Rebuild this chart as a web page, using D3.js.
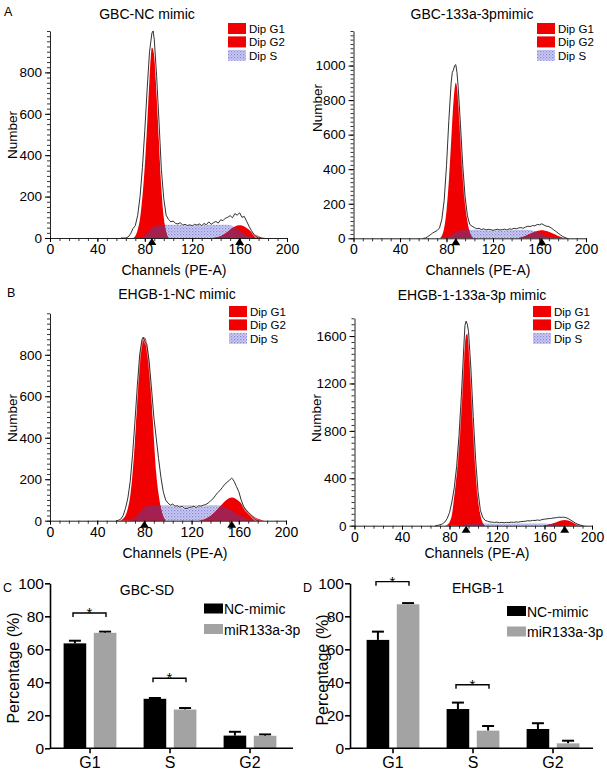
<!DOCTYPE html>
<html><head><meta charset="utf-8">
<script src="https://cdn.jsdelivr.net/npm/d3@7"></script>
<style>body{margin:0;background:#fff}svg{display:block}</style>
</head><body>
<svg id="fig" width="607" height="771"></svg>
<script>
// ---------------- DATA ----------------
const histTitles = ["GBC-NC mimic", "GBC-133a-3pmimic", "EHGB-1-NC mimic", "EHGB-1-133a-3p mimic"];
const phaseLegend = ["Dip G1", "Dip G2", "Dip S"];
const channelTicks = [0, 40, 80, 120, 160, 200];

// Panel A left: GBC-NC mimic  [channel, count]
const a1Total = [[60,0],[64,0],[66,5],[68,20],[70,45],[72,60],[74,110],[76,200],[78,340],[80,520],[82,720],[84,900],[86,990],[87,1000],[88,960],[90,780],[92,560],[94,330],[96,190],[98,110],[100,90],[102,78],[104,82],[106,70],[108,68],[110,74],[112,62],[114,66],[116,60],[118,64],[120,58],[122,66],[124,62],[126,68],[128,60],[130,70],[132,64],[134,78],[136,66],[138,74],[140,80],[142,72],[144,88],[146,84],[148,96],[150,100],[152,108],[154,98],[156,118],[158,110],[160,122],[162,100],[164,104],[166,80],[168,56],[170,36],[172,18],[174,6],[176,0]];
const a1G1 = [[70,0],[72,10],[74,40],[76,95],[78,200],[80,350],[82,550],[84,770],[86,920],[88,880],[90,700],[92,470],[94,240],[96,100],[98,30],[100,0]];
const a1G2 = [[138,0],[142,5],[146,15],[150,30],[154,48],[158,60],[160,62],[162,60],[166,48],[170,30],[174,14],[178,4],[182,0]];
const a1S = [[76,0],[80,10],[84,35],[88,55],[92,62],[96,64],[150,64],[154,58],[158,45],[162,28],[166,12],[170,3],[172,0]];
const a1Means = [86, 160];
const a1YTicks = [0, 200, 400, 600, 800];

// Panel A right: GBC-133a-3pmimic
const a2Total = [[60,0],[62,2],[64,10],[66,20],[68,30],[70,38],[72,45],[74,60],[76,110],[78,220],[80,420],[82,680],[84,900],[85,960],[86,975],[87,1000],[88,1005],[89,960],[90,880],[92,660],[94,420],[96,240],[98,130],[100,80],[102,70],[104,62],[106,55],[108,58],[110,50],[112,55],[114,48],[116,52],[118,50],[120,46],[122,50],[124,52],[126,48],[128,50],[130,53],[132,48],[134,55],[136,52],[138,58],[140,55],[142,60],[144,62],[146,58],[148,65],[150,70],[152,68],[154,74],[156,72],[158,80],[160,78],[162,84],[164,76],[166,70],[168,68],[170,60],[172,50],[174,40],[176,30],[178,20],[180,10],[182,4],[184,0]];
const a2G1 = [[74,0],[76,15],[78,60],[80,160],[82,330],[84,560],[86,790],[88,900],[90,820],[92,620],[94,400],[96,220],[98,100],[100,35],[102,8],[104,0]];
const a2G2 = [[140,0],[144,5],[148,14],[152,26],[156,38],[160,45],[162,46],[164,45],[168,38],[172,26],[176,14],[180,5],[184,0]];
const a2S = [[78,0],[82,10],[86,28],[90,42],[94,48],[98,50],[150,50],[154,45],[158,36],[162,25],[166,14],[170,6],[174,0]];
const a2Means = [88, 162];
const a2YTicks = [0, 200, 400, 600, 800, 1000];

// Panel B left: EHGB-1-NC mimic
const b1Total = [[56,0],[58,2],[60,8],[62,25],[64,60],[66,110],[68,190],[70,320],[72,480],[74,650],[76,800],[78,875],[79,885],[80,870],[81,860],[82,850],[84,770],[86,640],[88,500],[90,400],[92,300],[94,210],[96,140],[98,100],[100,85],[102,75],[104,80],[106,70],[108,72],[110,65],[112,70],[114,60],[116,58],[118,64],[120,66],[122,70],[124,62],[126,72],[128,70],[130,75],[132,78],[134,85],[136,95],[138,105],[140,120],[142,135],[144,145],[146,160],[148,175],[150,185],[152,195],[154,205],[155,200],[156,190],[158,165],[160,140],[162,100],[164,70],[166,50],[168,40],[170,28],[172,15],[174,6],[176,0]];
const b1G1 = [[58,0],[62,10],[66,60],[68,120],[70,230],[72,390],[74,600],[76,790],[78,870],[80,885],[82,860],[84,780],[86,600],[88,400],[90,230],[92,130],[94,60],[96,20],[98,0]];
const b1G2 = [[126,0],[130,5],[134,15],[138,32],[142,55],[146,80],[150,102],[154,112],[158,104],[162,84],[166,58],[170,34],[174,16],[178,6],[182,0]];
const b1S = [[66,0],[70,10],[74,30],[78,55],[82,70],[86,75],[142,75],[146,70],[150,60],[154,48],[158,35],[162,22],[166,12],[170,5],[174,0]];
const b1Means = [80, 154];
const b1YTicks = [0, 200, 400, 600, 800];

// Panel B right: EHGB-1-133a-3p mimic
const b2Total = [[68,0],[70,3],[72,8],[74,15],[76,30],[78,60],[80,110],[82,200],[84,320],[86,500],[88,760],[90,1100],[92,1500],[93,1690],[94,1726],[95,1700],[96,1640],[98,1330],[100,920],[102,560],[104,290],[106,130],[108,70],[110,45],[112,38],[114,32],[116,30],[118,28],[120,30],[122,26],[124,28],[126,25],[128,28],[130,26],[132,30],[134,28],[136,32],[138,30],[140,34],[142,36],[144,38],[146,42],[148,40],[150,45],[152,44],[154,48],[156,45],[158,52],[160,55],[162,58],[164,60],[166,62],[168,66],[170,68],[172,72],[174,70],[176,72],[178,68],[180,60],[182,48],[184,35],[186,22],[188,12],[190,5],[192,0]];
const b2G1 = [[76,0],[78,8],[80,30],[82,90],[84,250],[86,450],[88,720],[90,1050],[92,1420],[94,1610],[95,1620],[96,1560],[98,1250],[100,850],[102,500],[104,240],[106,90],[108,25],[110,0]];
const b2G2 = [[158,0],[162,6],[166,16],[170,30],[174,44],[177,48],[180,44],[184,30],[188,14],[192,4],[196,0]];
const b2S = [[84,0],[90,6],[96,14],[100,18],[160,18],[166,14],[172,8],[178,3],[184,0]];
const b2Means = [94, 177];
const b2YTicks = [0, 400, 800, 1200, 1600];

// Bar charts
const barCategories = ["G1", "S", "G2"];
const barSeries = ["NC-mimic", "miR133a-3p"];
const pctTicks = [0, 20, 40, 60, 80, 100];
const gbcNC = [63.6, 30.0, 7.7];
const gbcNCErr = [1.6, 0.5, 2.3];
const gbcMiR = [70.0, 23.5, 7.6];
const gbcMiRErr = [0.7, 0.9, 0.8];
const ehgbNC = [65.7, 23.8, 11.7];
const ehgbNCErr = [5.0, 3.9, 3.5];
const ehgbMiR = [87.3, 10.7, 3.0];
const ehgbMiRErr = [0.7, 2.8, 1.6];
const gbcSigCats = ["G1", "S"];
const gbcSigLevels = [82, 42.5];
const ehgbSigCats = ["G1", "S"];
const ehgbSigLevels = [101, 38.5];

// ---------------- DRAWING ----------------
const FONT = "'Liberation Sans', Arial, Helvetica, sans-serif";
const RED = "#f00000";
const OVERLAP = "#a3204f";
const svg = d3.select("#fig");
svg.append("rect").attr("width", 607).attr("height", 771).attr("fill", "#fff");

const defs = svg.append("defs");
const pat = defs.append("pattern").attr("id", "sPat").attr("width", 3).attr("height", 3)
  .attr("patternUnits", "userSpaceOnUse");
pat.append("rect").attr("width", 3).attr("height", 3).attr("fill", "#ccccf2");
pat.append("rect").attr("width", 1.3).attr("height", 1.3).attr("fill", "#8686da");
pat.append("rect").attr("x", 1.5).attr("y", 1.5).attr("width", 1.3).attr("height", 1.3).attr("fill", "#a4a4e6");

function txt(g, x, y, s, size, anchor, extra) {
  const t = g.append("text").attr("x", x).attr("y", y).text(s)
    .attr("font-family", FONT).attr("font-size", size).attr("fill", "#000")
    .attr("text-anchor", anchor || "start");
  if (extra) extra(t);
  return t;
}

function drawHist(cfg, d) {
  const g = svg.append("g");
  const x = d3.scaleLinear().domain([0, 200]).range([cfg.x0, cfg.x1]);
  const y = d3.scaleLinear().domain([0, cfg.yMax]).range([cfg.yZero, cfg.yTop]);
  const area = d3.area().x(p => x(p[0])).y0(y(0)).y1(p => y(p[1])).curve(d3.curveMonotoneX);
  const line = d3.line().x(p => x(p[0])).y(p => y(p[1]));

  g.append("path").attr("d", area(d.s)).attr("fill", "url(#sPat)");
  g.append("path").attr("d", area(d.g1)).attr("fill", RED);
  g.append("path").attr("d", area(d.g2)).attr("fill", RED);
  const cid = "clip" + cfg.id;
  const cp = defs.append("clipPath").attr("id", cid);
  cp.append("path").attr("d", area(d.g1));
  cp.append("path").attr("d", area(d.g2));
  g.append("path").attr("d", area(d.s)).attr("fill", OVERLAP).attr("clip-path", `url(#${cid})`);
  g.append("path").attr("d", line(d.total)).attr("fill", "none")
    .attr("stroke", "#fff").attr("stroke-width", 2.2).attr("opacity", 0.6);
  g.append("path").attr("d", line(d.total)).attr("fill", "none")
    .attr("stroke", "#1a1a1a").attr("stroke-width", 0.9);

  // y axis
  const minorY = d3.range(0, cfg.yMax + 0.01, cfg.yMinor);
  g.append("g").attr("transform", `translate(${cfg.x0},0)`)
    .call(d3.axisLeft(y).tickValues(minorY).tickSize(3).tickFormat(""))
    .call(a => a.select(".domain").remove())
    .call(a => a.selectAll("line").attr("stroke", "#333"));
  g.append("g").attr("transform", `translate(${cfg.x0},0)`)
    .call(d3.axisLeft(y).tickValues(d.yTicks).tickFormat(d3.format("d")).tickSize(5).tickSizeOuter(0).tickPadding(3))
    .call(a => a.select(".domain").attr("stroke", "#222"))
    .call(a => a.selectAll("text").attr("font-family", FONT).attr("font-size", 13.5).attr("fill", "#000"));
  // x axis
  g.append("g").attr("transform", `translate(0,${cfg.yZero})`)
    .call(d3.axisBottom(x).tickValues(d3.range(0, 201, 8)).tickSize(3).tickFormat(""))
    .call(a => a.select(".domain").remove())
    .call(a => a.selectAll("line").attr("stroke", "#333"));
  g.append("g").attr("transform", `translate(0,${cfg.yZero})`)
    .call(d3.axisBottom(x).tickValues(channelTicks).tickSize(4).tickSizeOuter(0).tickPadding(2))
    .call(a => a.select(".domain").attr("stroke", "#222"))
    .call(a => a.selectAll("text").attr("font-family", FONT).attr("font-size", 14).attr("fill", "#000"));

  // mean markers
  d.means.forEach(m => {
    const cx = x(m), y0 = y(0);
    g.append("path").attr("d", `M${cx - 4.5},${y0 + 7}L${cx + 4.5},${y0 + 7}L${cx},${y0}Z`).attr("fill", "#000");
  });

  // labels
  txt(g, cfg.titleX, cfg.titleY, d.title, 14, "middle");
  txt(g, cfg.chX, cfg.chY, "Channels (PE-A)", 14, "middle");
  txt(g, 0, 0, "Number", 13.5, "middle", t => t.attr("transform", `translate(${cfg.numX},${cfg.numY}) rotate(-90)`).attr("dy", "0.35em"));

  // legend
  const fills = [RED, RED, "url(#sPat)"];
  phaseLegend.forEach((lab, i) => {
    const yy = cfg.legY + i * 13.4;
    g.append("rect").attr("x", cfg.legX).attr("y", yy).attr("width", 18).attr("height", 11).attr("fill", fills[i]);
    txt(g, cfg.legX + 21, yy + 9.8, lab, 11.5, "start");
  });
}

drawHist({id: "a1", x0: 50, x1: 287, yZero: 238, yTop: 31, yMax: 1000, yMinor: 25,
  titleX: 147, titleY: 19, chX: 174, chY: 275, numX: 12, numY: 135, legX: 228, legY: 23},
  {title: histTitles[0], total: a1Total, g1: a1G1, g2: a1G2, s: a1S, means: a1Means, yTicks: a1YTicks});
drawHist({id: "a2", x0: 353.5, x1: 586, yZero: 238.3, yTop: 31, yMax: 1200, yMinor: 25,
  titleX: 472, titleY: 19, chX: 478, chY: 275, numX: 317, numY: 108, legX: 537, legY: 23},
  {title: histTitles[1], total: a2Total, g1: a2G1, g2: a2G2, s: a2S, means: a2Means, yTicks: a2YTicks});
drawHist({id: "b1", x0: 50, x1: 286, yZero: 520.7, yTop: 313.3, yMax: 1000, yMinor: 25,
  titleX: 177, titleY: 298.5, chX: 175, chY: 558, numX: 12, numY: 418, legX: 229, legY: 306},
  {title: histTitles[2], total: b1Total, g1: b1G1, g2: b1G2, s: b1S, means: b1Means, yTicks: b1YTicks});
drawHist({id: "b2", x0: 354.5, x1: 592, yZero: 525.7, yTop: 318.3, yMax: 1750, yMinor: 50,
  titleX: 472, titleY: 300, chX: 477, chY: 558, numX: 316, numY: 418, legX: 533, legY: 306},
  {title: histTitles[3], total: b2Total, g1: b2G1, g2: b2G2, s: b2S, means: b2Means, yTicks: b2YTicks});

// panel letters
txt(svg, 4, 16, "A", 12.5);
txt(svg, 7, 297, "B", 12.5);
txt(svg, 3, 592, "C", 12.5);
txt(svg, 303, 592, "D", 12.5);

function drawBars(cfg, d) {
  const g = svg.append("g");
  const x = d3.scaleBand().domain(barCategories).range([cfg.bx0, cfg.bx1]);
  const sub = d3.scaleBand().domain(barSeries).range([-26.4, 26.4]).paddingInner(0.25);
  const y = d3.scaleLinear().domain([0, 100]).range([cfg.yZero, cfg.yTop]);
  const colors = ["#000000", "#a3a3a3"];
  const vals = [d.nc, d.mir], errs = [d.ncErr, d.mirErr];

  barSeries.forEach((s, si) => {
    barCategories.forEach((c, ci) => {
      const cx = x(c) + x.bandwidth() / 2;
      const bx = cx + sub(s);
      const v = vals[si][ci], e = errs[si][ci];
      const mid = bx + sub.bandwidth() / 2;
      g.append("line").attr("x1", mid).attr("x2", mid).attr("y1", y(v)).attr("y2", y(v + e))
        .attr("stroke", "#000").attr("stroke-width", 2);
      g.append("line").attr("x1", mid - 6).attr("x2", mid + 6).attr("y1", y(v + e)).attr("y2", y(v + e))
        .attr("stroke", "#000").attr("stroke-width", 2);
      g.append("rect").attr("x", bx).attr("width", sub.bandwidth())
        .attr("y", y(v)).attr("height", y(0) - y(v)).attr("fill", colors[si]);
    });
  });

  // axes
  g.append("g").attr("transform", `translate(${cfg.ax0},0)`)
    .call(d3.axisLeft(y).tickValues(pctTicks).tickSize(5).tickSizeOuter(0).tickPadding(1))
    .call(a => a.selectAll("path,line").attr("stroke", "#000").attr("stroke-width", 1.6))
    .call(a => a.selectAll("text").attr("font-family", FONT).attr("font-size", 15.5).attr("fill", "#000"));
  g.append("g").attr("transform", `translate(0,${cfg.yZero})`)
    .call(d3.axisBottom(x).tickSize(5).tickSizeOuter(0).tickPadding(3))
    .call(a => a.select(".domain").remove())
    .call(a => a.selectAll("line").attr("stroke", "#000").attr("stroke-width", 1.6))
    .call(a => a.selectAll("text").attr("font-family", FONT).attr("font-size", 16).attr("fill", "#000"));
  g.append("line").attr("x1", cfg.ax0).attr("x2", cfg.ax1).attr("y1", cfg.yZero).attr("y2", cfg.yZero)
    .attr("stroke", "#000").attr("stroke-width", 1.6);

  // significance
  d.sigCats.forEach((c, i) => {
    const cx = x(c) + x.bandwidth() / 2;
    const yy = y(d.sigLevels[i]);
    const xl = cx - 17, xr = cx + 16;
    g.append("path").attr("d", `M${xl},${yy + 4}V${yy}H${xr}V${yy + 4}`)
      .attr("fill", "none").attr("stroke", "#000").attr("stroke-width", 1.4);
    txt(g, (xl + xr) / 2, yy + 5, "*", 15, "middle");
  });

  txt(g, cfg.titleX, cfg.titleY, d.title, 14, "middle");
  txt(g, 0, 0, "Percentage (%)", 16, "middle", t => t.attr("transform", `translate(${cfg.pX},${cfg.pY}) rotate(-90)`).attr("dy", "0.35em"));

  barSeries.forEach((s, si) => {
    const yy = cfg.legY + si * 20.5;
    g.append("rect").attr("x", cfg.legX).attr("y", yy).attr("width", 19).attr("height", 10).attr("fill", colors[si]);
    txt(g, cfg.legX + 20, yy + 10.5, s, 14, "start");
  });
}

drawBars({bx0: 50, bx1: 290, ax0: 50, ax1: 293, yZero: 748.3, yTop: 583.3,
  titleX: 147, titleY: 595, pX: 13, pY: 668, legX: 204, legY: 603.5},
  {title: "GBC-SD", nc: gbcNC, ncErr: gbcNCErr, mir: gbcMiR, mirErr: gbcMiRErr, sigCats: gbcSigCats, sigLevels: gbcSigLevels});
drawBars({bx0: 353, bx1: 593, ax0: 350, ax1: 593, yZero: 748.3, yTop: 583.3,
  titleX: 478, titleY: 593, pX: 322, pY: 670, legX: 507, legY: 606},
  {title: "EHGB-1", nc: ehgbNC, ncErr: ehgbNCErr, mir: ehgbMiR, mirErr: ehgbMiRErr, sigCats: ehgbSigCats, sigLevels: ehgbSigLevels});
</script>
</body></html>
